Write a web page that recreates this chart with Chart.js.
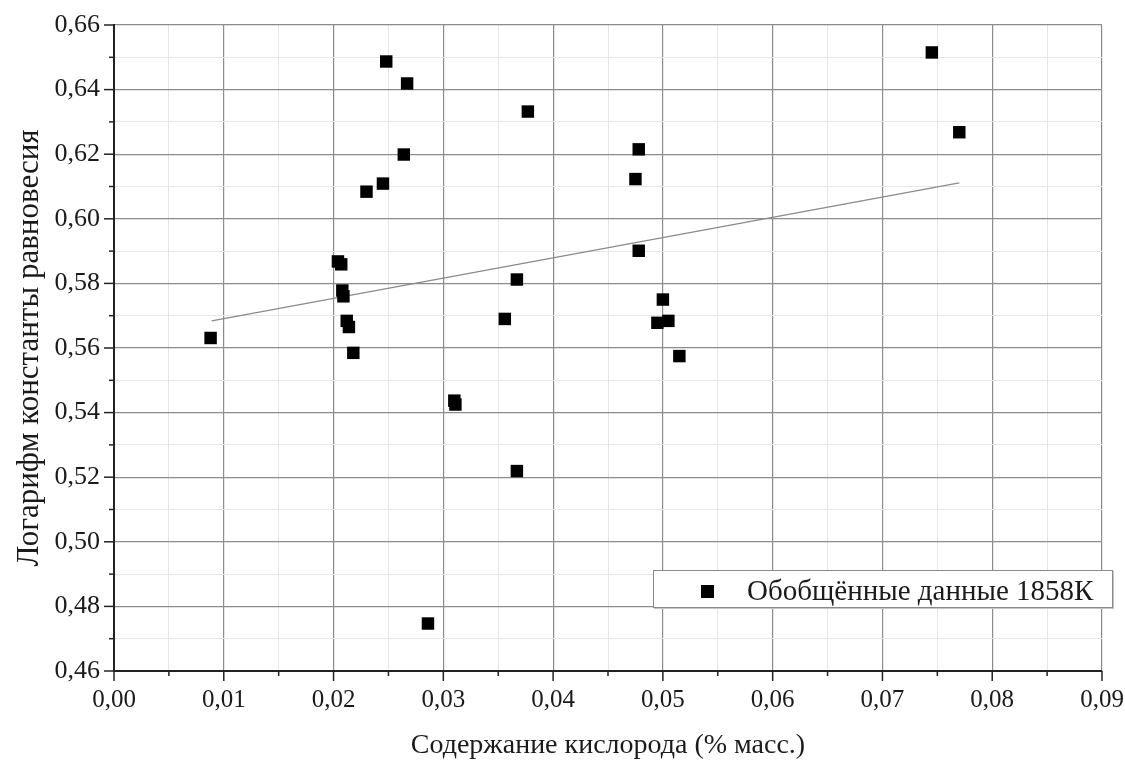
<!DOCTYPE html>
<html>
<head>
<meta charset="utf-8">
<script src="https://cdn.jsdelivr.net/npm/chart.js@4.4.0/dist/chart.umd.min.js"></script>
<style>
    html, body { margin: 0; padding: 0; background: #fff; }
    #wrap { position: relative; width: 1125px; height: 762px; }
    #legend {
        position: absolute; left: 653px; top: 570px; width: 458px; height: 36px;
        border: 1px solid #8a8a8a; background: #fff; box-shadow: 1px 1px 0 #c4c4c4;
        font-family: 'Liberation Serif', serif; font-size: 29px; color: #1a1a1a;
    }
    #legend .mark { position: absolute; left: 47px; top: 14px; width: 13px; height: 13px; background: #000; }
    #legend .txt { position: absolute; left: 93px; top: 2px; line-height: 34px; white-space: nowrap; }
</style>
</head>
<body>
<div id="wrap">
    <canvas id="chart" width="1125" height="762"></canvas>
    <div id="legend"><span class="mark"></span><span class="txt" id="legend-text"></span></div>
</div>
<script>
"use strict";

// oxygen content, % mass
const oxygen = [
    0.0088, 0.0204, 0.0207, 0.0208, 0.0209, 0.0212, 0.0214, 0.0218, 0.0230, 0.0245,
    0.0248, 0.0264, 0.0267, 0.0286, 0.0310, 0.0311, 0.0356, 0.0367, 0.0367, 0.0377,
    0.0475, 0.0478, 0.0478, 0.0495, 0.0500, 0.0505, 0.0515, 0.0745, 0.0770
]
// log of equilibrium constant
const logK = [
    0.5631, 0.5868, 0.5859, 0.5778, 0.5760, 0.5684, 0.5665, 0.5585, 0.6084, 0.6109,
    0.6487, 0.6199, 0.6419, 0.4747, 0.5437, 0.5425, 0.5690, 0.5812, 0.5219, 0.6332,
    0.6123, 0.6215, 0.5901, 0.5678, 0.5750, 0.5684, 0.5575, 0.6515, 0.6268
]
// linear fit, ends
const fitX = [0.0089, 0.0770]
const fitY = [0.5684, 0.6111]

const xRange = [0, 0.09]
const yRange = [0.46, 0.66]
const seriesLabel = 'Обобщённые данные 1858К'
const xTitle = 'Содержание кислорода (% масс.)'
const yTitle = 'Логарифм константы равновесия'

const FONT = "'Liberation Serif', 'Times New Roman', serif"
const isMajorX = v => Math.abs(v / 0.01 - Math.round(v / 0.01)) < 1e-6
const isMajorY = v => Math.abs(v / 0.02 - Math.round(v / 0.02)) < 1e-6
const fmt = v => v.toFixed(2).replace('.', ',')

const points = oxygen.map((x, i) => ({ x, y: logK[i] }))
const fitPoints = fitX.map((x, i) => ({ x, y: fitY[i] }))

document.getElementById('legend-text').textContent = seriesLabel

// outward tick marks, long for labelled ticks and short between them
const tickMarks = {
    id: 'tickMarks',
    afterDraw: chart => {
        const { ctx, chartArea, scales } = chart
        ctx.save()
        ctx.strokeStyle = '#222'
        ctx.lineWidth = 1.5
        scales.x.ticks.forEach(t => {
            const px = scales.x.getPixelForValue(t.value)
            const len = isMajorX(t.value) ? 10 : 5
            ctx.beginPath()
            ctx.moveTo(px, chartArea.bottom)
            ctx.lineTo(px, chartArea.bottom + len)
            ctx.stroke()
        })
        scales.y.ticks.forEach(t => {
            const py = scales.y.getPixelForValue(t.value)
            const len = isMajorY(t.value) ? 10 : 5
            ctx.beginPath()
            ctx.moveTo(chartArea.left, py)
            ctx.lineTo(chartArea.left - len, py)
            ctx.stroke()
        })
        ctx.restore()
    }
}

new Chart(document.getElementById('chart'), {
    type: 'scatter',
    data: {
        datasets: [
            {
                label: seriesLabel,
                data: points,
                pointStyle: 'rect',
                pointRadius: 8.8,
                pointHoverRadius: 8.8,
                backgroundColor: '#000',
                borderWidth: 0,
                order: 1
            },
            {
                label: 'fit',
                type: 'line',
                data: fitPoints,
                showLine: true,
                borderColor: '#8a8a8a',
                borderWidth: 1.2,
                pointRadius: 0,
                fill: false,
                order: 2
            }
        ]
    },
    options: {
        responsive: false,
        animation: false,
        layout: { padding: { top: 25, right: 23, left: 0, bottom: 0 } },
        plugins: { legend: { display: false }, tooltip: { enabled: false } },
        scales: {
            x: {
                type: 'linear',
                min: xRange[0],
                max: xRange[1],
                afterFit: s => {
                    s.height = 91
                    s.paddingLeft = 0
                    s.paddingRight = 0
                },
                ticks: {
                    stepSize: 0.005,
                    autoSkip: false,
                    maxRotation: 0,
                    padding: 14,
                    color: '#1a1a1a',
                    font: { family: FONT, size: 25 },
                    callback: v => isMajorX(v) ? fmt(v) : ''
                },
                grid: {
                    drawTicks: false,
                    color: c => c.tick && isMajorX(c.tick.value) ? '#8c8c8c' : '#e6e6e6',
                    lineWidth: c => c.tick && isMajorX(c.tick.value) ? 1.2 : 1
                },
                border: { display: true, color: '#222', width: 2 },
                title: {
                    display: true,
                    text: xTitle,
                    color: '#1a1a1a',
                    font: { family: FONT, size: 28 },
                    padding: { top: 0, bottom: 0 }
                }
            },
            y: {
                type: 'linear',
                min: yRange[0],
                max: yRange[1],
                afterFit: s => {
                    s.width = 114
                    s.paddingTop = 0
                    s.paddingBottom = 0
                },
                ticks: {
                    stepSize: 0.01,
                    autoSkip: false,
                    padding: 14,
                    color: '#1a1a1a',
                    font: { family: FONT, size: 26 },
                    callback: v => isMajorY(v) ? fmt(v) : ''
                },
                grid: {
                    drawTicks: false,
                    color: c => c.tick && isMajorY(c.tick.value) ? '#8c8c8c' : '#e6e6e6',
                    lineWidth: c => c.tick && isMajorY(c.tick.value) ? 1.2 : 1
                },
                border: { display: true, color: '#222', width: 2 },
                title: {
                    display: true,
                    text: yTitle,
                    color: '#1a1a1a',
                    font: { family: FONT, size: 31 },
                    padding: { top: 11, bottom: 0 }
                }
            }
        }
    },
    plugins: [tickMarks]
});
</script>
</body>
</html>
